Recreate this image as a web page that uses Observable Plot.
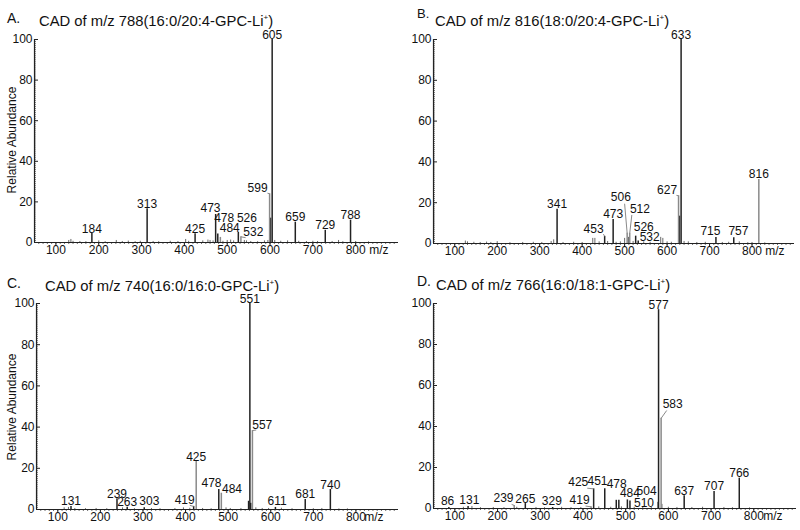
<!DOCTYPE html>
<html><head><meta charset="utf-8">
<script src="https://cdn.jsdelivr.net/npm/d3@7"></script>
<script src="https://cdn.jsdelivr.net/npm/@observablehq/plot@0.6"></script>
<style>
body{margin:0;background:#fff;font-family:"Liberation Sans",Arial,sans-serif;color:#111;}
#wrap{position:relative;width:800px;height:530px;overflow:hidden;background:#fff;}
.panel{position:absolute;}
.panel svg{background:transparent;}
.ttl{position:absolute;font-size:14.8px;line-height:16px;white-space:nowrap;z-index:2;}
.ttl sup{font-size:8px;vertical-align:6px;line-height:0;}
.ylab{position:absolute;width:130px;text-align:center;font-size:12px;line-height:14px;transform:rotate(-90deg);white-space:nowrap;z-index:2;}
</style></head>
<body><div id="wrap"></div>
<script>
// ---------- data ----------
const panelLetters = ["A.", "B.", "C.", "D."];
const precursorMz = ["788", "816", "740", "766"];
const species = ["16:0/20:4-GPC-Li", "18:0/20:4-GPC-Li", "16:0/16:0-GPC-Li", "16:0/18:1-GPC-Li"];
const yLabel = "Relative Abundance";
const xLabel = "m/z";
const xTicks = [100, 200, 300, 400, 500, 600, 700, 800];
const yTicks = [0, 20, 40, 60, 80, 100];

// labelled peaks [m/z, relative abundance %]
const peaksA = [[184,4.4],[313,16.6],[425,4.3],[473,13.8],[478,4.2],[484,2.5],[526,5.0],[532,2.8],[599,24],[601,12],[605,100],[659,10],[729,6],[788,11]];
const peaksB = [[341,16.8],[453,3.5],[473,11.8],[506,5],[512,5],[526,3.6],[532,1.2],[627,23.4],[629,13.4],[633,100],[715,2.9],[757,2.8],[816,31.4]];
const peaksC = [[131,1.5],[239,5.2],[263,1.1],[303,0.8],[419,1.5],[425,23.3],[478,9.7],[484,7.9],[548,4],[551,100],[553,3],[557,38.3],[611,1],[681,4.9],[740,9.7]];
const peaksD = [[86,0.5],[131,1],[239,1.5],[265,2.4],[329,0.5],[419,0.8],[425,9.6],[451,9.6],[478,4],[484,4],[504,4.2],[510,3.6],[577,97],[583,44],[637,6.2],[707,8.3],[766,14.8]];

// small unlabelled ions [m/z, %]
const noiseA = [[130,1.0],[135,1.5],[140,0.6],[156,0.5],[170,0.4],[200,0.8],[215,0.4],[241,1.0],[255,0.5],[269,0.7],[285,0.4],[297,0.6],[327,0.5],[340,0.4],[367,0.6],[385,0.5],[403,1.5],[410,0.6],[443,0.8],[455,1.2],[460,1.0],[467,0.8],[490,0.6],[500,1.0],[508,1.2],[515,0.8],[540,1.0],[545,0.8],[555,0.5],[571,0.4],[587,0.8],[595,1.0],[611,1.0],[625,0.6],[641,0.8],[667,0.6],[685,0.5],[700,0.6],[711,0.5],[745,0.5],[760,1.0],[770,0.4],[800,0.5],[830,0.3]];
const noiseB = [[125,1.2],[130,0.8],[145,0.6],[160,0.5],[175,0.7],[185,0.5],[200,0.9],[230,0.4],[260,0.5],[285,0.6],[305,0.5],[327,1.0],[333,1.8],[355,0.5],[380,0.6],[400,0.5],[425,2.5],[430,2.5],[440,0.8],[460,1.0],[480,0.6],[490,0.8],[500,2.5],[509,3],[520,1.0],[545,0.8],[560,0.6],[585,3.0],[590,2.5],[600,0.8],[610,0.6],[640,1.0],[650,0.8],[670,0.5],[690,0.6],[730,0.5],[745,0.6],[770,0.8],[790,0.4],[800,0.5],[830,0.3]];
const noiseC = [[115,0.8],[125,1.0],[140,0.5],[165,0.4],[190,0.5],[215,0.4],[252,0.8],[280,0.4],[320,0.5],[340,0.4],[375,0.5],[395,0.8],[410,0.6],[440,0.5],[460,0.4],[495,0.8],[505,0.5],[530,0.5],[565,0.8],[580,0.5],[595,0.5],[625,0.6],[650,0.4],[700,0.4],[720,0.5],[760,0.3],[780,0.3]];
const noiseD = [[120,0.6],[140,1.0],[160,0.4],[190,0.5],[215,0.4],[245,0.6],[290,0.5],[310,0.4],[350,0.6],[372,0.4],[395,0.5],[437,0.8],[465,0.6],[490,0.8],[520,0.6],[540,0.5],[560,0.6],[575,3],[585,2],[600,0.6],[620,0.5],[655,0.5],[680,0.6],[730,0.5],[750,0.4],[790,0.3]];

// which peaks carry a text label
const labelledA = [184,313,425,473,478,484,526,532,599,605,659,729,788];
const labelledB = [341,453,473,506,512,526,532,627,633,715,757,816];
const labelledC = [131,239,263,303,419,425,478,484,551,557,611,681,740];
const labelledD = [86,131,239,265,329,419,425,451,478,484,504,510,577,583,637,707,766];

// ---------- layout (label placement, leaders, styles) ----------
const grayA = [599,484,532], grayB = [627,506,512,816], grayC = [557,484,425], grayD = [583,239,419];
// m/z -> [text m/z, text bottom %, leader start m/z, leader start %]
const placeA = {473:[461,14.6],478:[493,9.6],484:[506,4.7],526:[546,9.6],532:[561,2.5,543,2.4],599:[571,24.6,594,24.3]};
const placeB = {453:[427,4.9,450,4.6],506:[491,20.4,500,19.5],512:[536,14.5,517,14],526:[545,5.5],532:[559,0.9],627:[600,23.7,622,23.6],715:[702,3.6],757:[768,3.6]};
const placeC = {303:[315,1.8],419:[398,2.3,410,2.0],478:[461,10.4],484:[509,7.6],557:[580,38.5,566,38.6],611:[615,1.6]};
const placeD = {86:[83,1],131:[134,1.5],239:[214,2.6,233,2.0],329:[327,1],419:[392,1.5,406,1.2],425:[389,10.4,410,9.9],451:[434,11],478:[479,9.6],484:[510,5.0],504:[549,6.2],510:[543,0.2],583:[610,48.6,596,47.8]};

const layout = [
  {left:0,   top:20,  h:246, ml:34, mr:2, mt:19, mb:24, mzDx:-10, letter:[7,9.5,14], title:[39,13], ylab:[12,140]},
  {left:400, top:20,  h:246, ml:33, mr:6, mt:19, mb:23, mzDx:-10, letter:[417,6,13], title:[435,13], ylab:null},
  {left:0,   top:285, h:245, ml:36, mr:2, mt:18, mb:21, mzDx:-15, letter:[7,275,14], title:[45,278], ylab:[12,407]},
  {left:400, top:285, h:245, ml:33, mr:4, mt:18, mb:22, mzDx:-14, letter:[417,273,14], title:[436,277], ylab:null}
];

const allPeaks = [peaksA, peaksB, peaksC, peaksD];
const allNoise = [noiseA, noiseB, noiseC, noiseD];
const allLabelled = [labelledA, labelledB, labelledC, labelledD];
const allGray = [grayA, grayB, grayC, grayD];
const allPlace = [placeA, placeB, placeC, placeD];

const wrap = document.getElementById("wrap");
const font = "Liberation Sans, Arial, sans-serif";

for (let i = 0; i < 4; i++) {
  const L = layout[i];
  const peaks = allPeaks[i].map(([mz, v]) => ({mz, v}));
  const gray = allGray[i];
  const place = allPlace[i];
  const labels = peaks.filter(p => allLabelled[i].includes(p.mz)).map(p => {
    const q = place[p.mz];
    return {text: String(p.mz), tx: q ? q[0] : p.mz, ty: q ? q[1] : p.v};
  });
  const leaders = peaks.filter(p => place[p.mz] && place[p.mz].length === 4)
    .map(p => ({x1: place[p.mz][2], y1: place[p.mz][3], x2: p.mz, y2: p.v}));
  const noise = allNoise[i].map(([mz, v]) => ({mz, v}));

  const chart = Plot.plot({
    width: 400, height: L.h,
    marginLeft: L.ml, marginRight: L.mr, marginTop: L.mt, marginBottom: L.mb,
    x: {domain: [50, 900], axis: null},
    y: {domain: [0, 100], axis: null},
    style: {background: "transparent", fontFamily: font, fontSize: "12px", color: "#111", overflow: "visible"},
    marks: [
      Plot.axisX({ticks: d3.range(60, 900, 10), tickSize: 2, text: null, stroke: "#333", strokeWidth: 0.7}),
      Plot.axisX({ticks: xTicks, tickSize: 3, tickPadding: 0, fontSize: 12, stroke: "#222"}),
      Plot.axisY({ticks: d3.range(0, 101, 1), tickSize: -2, text: null, stroke: "#333", strokeWidth: 0.6}),
      Plot.axisY({ticks: yTicks, tickSize: -4, text: null, stroke: "#222"}),
      Plot.axisY({ticks: yTicks, tickSize: 0, tickPadding: 2, fontSize: 12}),
      Plot.ruleY([0], {stroke: "#222", strokeWidth: 1.2}),
      Plot.ruleX([50], {y1: 0, y2: 100, stroke: "#222", strokeWidth: 1.2}),
      Plot.ruleX(noise, {x: "mz", y1: 0, y2: "v", stroke: "#444", strokeWidth: 0.8}),
      Plot.ruleX(peaks.filter(p => !gray.includes(p.mz)), {x: "mz", y1: 0, y2: "v", stroke: "#222", strokeWidth: 1.5}),
      Plot.ruleX(peaks.filter(p => gray.includes(p.mz)), {x: "mz", y1: 0, y2: "v", stroke: "#8a8a8a", strokeWidth: 1.5}),
      Plot.link(leaders, {x1: "x1", y1: "y1", x2: "x2", y2: "y2", stroke: "#8a8a8a", strokeWidth: 1}),
      Plot.text(labels, {x: "tx", y: "ty", text: "text", lineAnchor: "bottom", dy: -1, fontSize: 12, fill: "#111"}),
      Plot.text([xLabel], {frameAnchor: "bottom-right", textAnchor: "end", lineAnchor: "middle", dx: L.mzDx, dy: 8, fontSize: 12, fill: "#111"})
    ]
  });
  const box = document.createElement("div");
  box.className = "panel";
  box.style.left = L.left + "px";
  box.style.top = L.top + "px";
  box.appendChild(chart);
  wrap.appendChild(box);

  const letter = document.createElement("div");
  letter.className = "ttl";
  letter.style.left = L.letter[0] + "px";
  letter.style.top = L.letter[1] + "px";
  letter.style.fontSize = L.letter[2] + "px";
  letter.textContent = panelLetters[i];
  wrap.appendChild(letter);

  const title = document.createElement("div");
  title.className = "ttl";
  title.style.left = L.title[0] + "px";
  title.style.top = L.title[1] + "px";
  title.innerHTML = "CAD of m/z " + precursorMz[i] + "(" + species[i] + "<sup>+</sup>)";
  wrap.appendChild(title);

  if (L.ylab) {
    const yl = document.createElement("div");
    yl.className = "ylab";
    yl.style.left = (L.ylab[0] - 65) + "px";
    yl.style.top = (L.ylab[1] - 7) + "px";
    yl.textContent = yLabel;
    wrap.appendChild(yl);
  }
}
</script>
</body></html>
